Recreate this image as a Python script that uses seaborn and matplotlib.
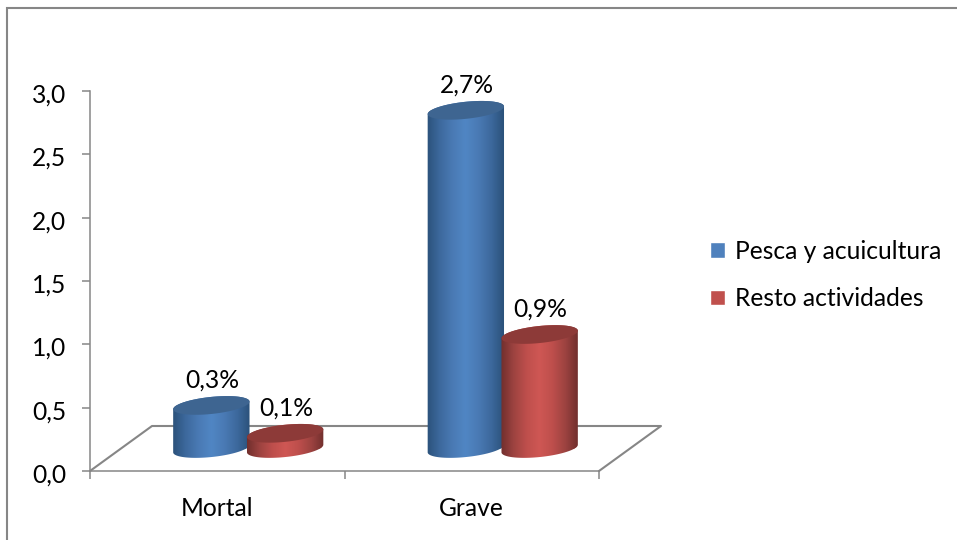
import numpy as np
import pandas as pd
import matplotlib
matplotlib.use("Agg")
import matplotlib.pyplot as plt
import seaborn as sns
from matplotlib.colors import LinearSegmentedColormap
from matplotlib.patches import PathPatch, Polygon
from matplotlib.path import Path
from matplotlib.transforms import ScaledTranslation

categories = ["Mortal", "Grave"]
series_names = ["Pesca y acuicultura", "Resto actividades"]
pesca_values = [0.34, 2.67]
resto_values = [0.12, 0.90]
value_labels = [["0,3%", "2,7%"], ["0,1%", "0,9%"]]
y_ticks = [0.0, 0.5, 1.0, 1.5, 2.0, 2.5, 3.0]
y_tick_labels = ["0,0", "0,5", "1,0", "1,5", "2,0", "2,5", "3,0"]

W, H = 957, 540
GREY = "#868686"
FONT = "Lato"
FONT_SIZE = 17.7
# plot area and the depth of the fake 3D floor, in pixels
LEFT, RIGHT, TOP, BOTTOM = 90, 599, 91, 471
DEPTH_X, DEPTH_Y = 62, 45

sns.set_theme(style="white")
plt.rcParams["font.family"] = [FONT, "DejaVu Sans"]


def rect(x0, x1, y0, y1):
    return [x0 / W, 1 - y1 / H, (x1 - x0) / W, (y1 - y0) / H]


def ellipse_points(cx, cy, a, b, start, stop, tilt=np.radians(6)):
    t = np.linspace(start, stop, 60)
    px = cx + a * np.cos(t) * np.cos(tilt) - b * np.sin(t) * np.sin(tilt)
    py = cy - (a * np.cos(t) * np.sin(tilt) + b * np.sin(t) * np.cos(tilt))
    return np.column_stack([px, py])


def draw_cylinder(ax, bar, shades, top_color, label):
    # bar comes from seaborn, turn its pixel box into a cylinder
    (x0, y0), (x1, y1) = bar.get_window_extent().get_points()
    x0, x1 = ax.transData.inverted().transform([(x0, 0), (x1, 0)])[:, 0]
    cy_base = H - y0
    cy_top = H - y1
    cx = (x0 + x1) / 2
    a = (x1 - x0) / 2 * 1.04
    b = 8.5
    body = np.vstack([
        ellipse_points(cx, cy_base, a, b, np.pi, 2 * np.pi),
        ellipse_points(cx, cy_top, a, b, 0, np.pi),
    ])
    path = Path(np.vstack([body, body[0]]), closed=True)
    bar.set_clip_path(path, transform=ax.transData)

    cmap = LinearSegmentedColormap.from_list("shade", shades)
    img = ax.imshow(
        np.linspace(0, 1, 128).reshape(1, -1),
        cmap=cmap,
        aspect="auto",
        extent=(cx - a - 1, cx + a + 1, cy_base + 12, cy_top - 12),
        zorder=3,
    )
    img.set_clip_path(PathPatch(path, transform=ax.transData))
    ax.add_patch(Polygon(
        ellipse_points(cx, cy_top, a, b, 0, 2 * np.pi),
        facecolor=top_color, edgecolor="none", zorder=4,
    ))
    ax.text(cx + 1, cy_top - 25, label, ha="center", va="center",
            fontsize=FONT_SIZE, color="black", family=[FONT, "DejaVu Sans"], zorder=5)


df = pd.DataFrame({
    "categoria": categories * 2,
    "serie": [series_names[0]] * 2 + [series_names[1]] * 2,
    "valor": pesca_values + resto_values,
})

fig = plt.figure(figsize=(W / 100, H / 100), dpi=100, facecolor="white")

# axis that carries the ticks
ax = fig.add_axes(rect(LEFT, RIGHT, TOP, BOTTOM), zorder=0)
ax.set_xlim(-0.5, 1.5)
ax.set_ylim(0, 3)
ax.set_yticks(y_ticks, y_tick_labels)
ax.set_xticks([-0.5, 0.5, 1.5], ["", "", ""])
ax.set_xticks([0, 1], categories, minor=True)
ax.tick_params(axis="y", left=True, length=6, width=1.1, color=GREY,
               labelsize=FONT_SIZE, labelcolor="black", pad=11)
ax.tick_params(axis="x", which="major", bottom=True, length=6, width=1.1, color=GREY)
ax.tick_params(axis="x", which="minor", bottom=False, length=0,
               labelsize=FONT_SIZE, labelcolor="black", pad=18.5)
# tick labels sit about 2 px lower in the reference
nudge = ScaledTranslation(0, -2 / 100, fig.dpi_scale_trans)
for tick_label in ax.get_yticklabels():
    tick_label.set_transform(tick_label.get_transform() + nudge)
sns.despine(ax=ax)
for side in ["left", "bottom"]:
    ax.spines[side].set_color(GREY)
    ax.spines[side].set_linewidth(1.1)

# same scale, moved back to the middle of the floor
depth_ax = fig.add_axes(
    rect(LEFT + DEPTH_X / 2, RIGHT + DEPTH_X / 2, TOP - DEPTH_Y / 2, BOTTOM - DEPTH_Y / 2),
    zorder=1,
)
depth_ax.patch.set_alpha(0)
sns.barplot(
    data=df, x="categoria", y="valor", hue="serie", order=categories,
    hue_order=series_names, palette=["#4F81BD", "#C0504D"],
    width=0.58, gap=0, errorbar=None, saturation=1, ax=depth_ax,
)
depth_ax.set_xlim(-0.5, 1.5)
depth_ax.set_ylim(0, 3)
handles, labels = depth_ax.get_legend_handles_labels()
depth_ax.get_legend().remove()
depth_ax.axis("off")

# pixel layer for frame, floor and cylinders
overlay = fig.add_axes([0, 0, 1, 1], zorder=2)
overlay.patch.set_alpha(0)
overlay.axis("off")
overlay.set_xlim(0, W)
overlay.set_ylim(H, 0)

overlay.plot([7, 7, W], [H, 8, 8], color=GREY, lw=1.5, solid_joinstyle="miter",
             clip_on=False, zorder=1)
overlay.plot(
    [LEFT, LEFT + DEPTH_X, RIGHT + DEPTH_X, RIGHT],
    [BOTTOM, BOTTOM - DEPTH_Y, BOTTOM - DEPTH_Y, BOTTOM],
    color=GREY, lw=1.5, zorder=1,
)

blue_shades = ["#2A5078", "#3C689C", "#4A7AB4", "#5086C4", "#4A7AB4", "#3C689C", "#2A5078"]
red_shades = ["#6E2E2C", "#9C4240", "#BE4F4C", "#CF5754", "#BE4F4C", "#9C4240", "#6E2E2C"]
top_colors = ["#3E6591", "#8D3A38"]
shades = [blue_shades, red_shades]

fig.canvas.draw()
for s, container in enumerate(depth_ax.containers):
    for c, bar in enumerate(container):
        draw_cylinder(overlay, bar, shades[s], top_colors[s], value_labels[s][c])
overlay.set_xlim(0, W)
overlay.set_ylim(H, 0)

fig.legend(
    handles, labels, loc="center left", bbox_to_anchor=(688 / W, 1 - 275 / H),
    frameon=False, fontsize=FONT_SIZE, handlelength=0.61, handleheight=0.61,
    handletextpad=0.4, labelspacing=0.98, labelcolor="black",
)

fig.savefig("out.png", dpi=100)
